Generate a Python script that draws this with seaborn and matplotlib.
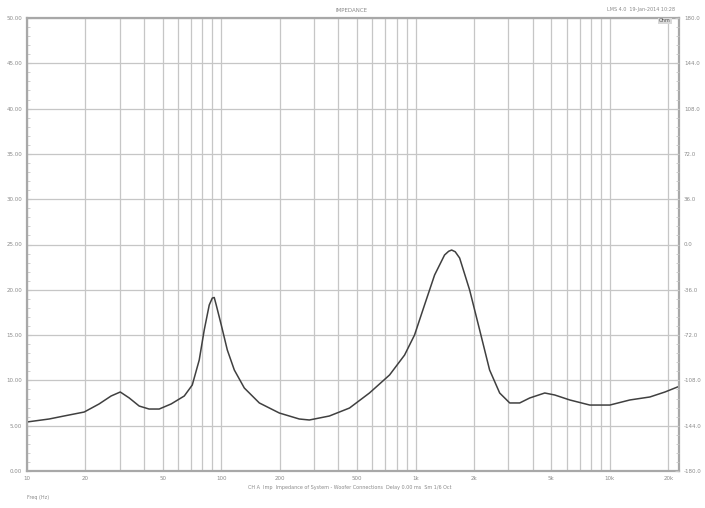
import numpy as np
import pandas as pd
import matplotlib
matplotlib.use('Agg')
import matplotlib.pyplot as plt
import seaborn as sns
from matplotlib.ticker import FixedLocator, NullFormatter

# Impedance curve (Hz, Ohm)
freq_hz = [10, 13, 15.5, 19.7, 23.5, 27.1, 30.2, 33.6, 37.8, 42.5, 47.9, 55.2, 64.5,
           70.9, 77.0, 81.7, 86.7, 89.9, 92.0, 94.2, 100, 107.4, 116.7, 131.4, 157, 199,
           252, 284, 360, 457, 579, 735, 878, 988, 1112, 1253, 1410, 1480, 1534, 1600,
           1686, 1898, 2138, 2405, 2710, 3053, 3436, 3870, 4624, 5204, 6220, 7888,
           10000, 12680, 16070, 19220, 22960]
impedance_ohm = [5.41, 5.74, 6.07, 6.51, 7.40, 8.28, 8.72, 8.06, 7.17, 6.84, 6.84, 7.40,
                 8.28, 9.49, 12.25, 15.56, 18.32, 19.09, 19.15, 18.32, 16.11, 13.36, 11.15,
                 9.16, 7.51, 6.40, 5.74, 5.63, 6.07, 6.95, 8.61, 10.60, 12.80, 15.01,
                 18.32, 21.63, 23.84, 24.25, 24.39, 24.20, 23.51, 19.98, 15.56, 11.15,
                 8.61, 7.51, 7.51, 8.06, 8.61, 8.39, 7.84, 7.28, 7.28, 7.84, 8.17, 8.72,
                 9.38]

x_ticks = [10, 20, 50, 100, 200, 500, 1000, 2000, 5000, 10000, 20000]
x_tick_labels = ['10', '20', '50', '100', '200', '500', '1k', '2k', '5k', '10k', '20k']
ohm_ticks = [0, 5, 10, 15, 20, 25, 30, 35, 40, 45, 50]
deg_ticks = [-180, -144, -108, -72, -36, 0, 36, 72, 108, 144, 180]

df = pd.DataFrame({'Frequency': freq_hz, 'Impedance': impedance_ohm})

sns.set_style('white')
grid_col = '#c6c6c6'
text_col = '#8a8a8a'

fig = plt.figure(figsize=(7.05, 5.08), dpi=100)
ax = fig.add_axes([27 / 705, 37 / 508, 652 / 705, 453 / 508])

sns.lineplot(data=df, x='Frequency', y='Impedance', ax=ax, color='#404040', linewidth=1.1)

ax.set_xscale('log')
ax.set_xlim(10, 22700)
ax.set_ylim(0, 50)

# grid: every 1-9 multiple on the log axis, every 5 Ohm on the linear one
grid_x = [m * 10 ** d for d in range(1, 5) for m in range(1, 10) if 10 <= m * 10 ** d <= 22700]
for gx in grid_x:
    ax.axvline(gx, color=grid_col, lw=0.9, zorder=0)
for gy in ohm_ticks:
    ax.axhline(gy, color=grid_col, lw=0.9, zorder=0)

ax.xaxis.set_major_locator(FixedLocator(x_ticks))
ax.set_xticklabels(x_tick_labels)
ax.xaxis.set_minor_formatter(NullFormatter())
ax.set_yticks(ohm_ticks)
ax.set_yticklabels([f'{v:.2f}' for v in ohm_ticks])
ax.yaxis.set_minor_locator(FixedLocator(np.arange(0, 50, 1)))
ax.tick_params(axis='both', which='both', direction='in', colors=grid_col,
               labelcolor=text_col, labelsize=4, length=3)
ax.tick_params(axis='y', which='minor', length=2)
ax.tick_params(axis='x', which='minor', length=0)
ax.set_xlabel('')
ax.set_ylabel('')

for s in ax.spines.values():
    s.set_color('#a8a8a8')
    s.set_linewidth(1.6)

# phase axis on the right
ax2 = ax.twinx()
ax2.set_ylim(-180, 180)
ax2.set_yticks(deg_ticks)
ax2.set_yticklabels([f'{v:.1f}' for v in deg_ticks])
ax2.yaxis.set_minor_locator(FixedLocator(np.arange(-180, 180, 7.2)))
ax2.tick_params(axis='y', which='both', direction='in', colors=grid_col,
                labelcolor=text_col, labelsize=4, length=3)
ax2.tick_params(axis='y', which='minor', length=2)
for s in ax2.spines.values():
    s.set_visible(False)

fig.text(352 / 705, 1 - 10 / 508, 'IMPEDANCE', ha='center', va='center', fontsize=4, color=text_col)
fig.text(675 / 705, 1 - 9 / 508, 'LMS 4.0  19-Jan-2014 10:28', ha='right', va='center',
         fontsize=3.5, color=text_col)
fig.text(665 / 705, 1 - 21 / 508, 'Ohm', ha='center', va='center', fontsize=3.5,
         color='#555555', bbox=dict(boxstyle='square,pad=0.2', fc='#d8d8d8', ec='none'))
fig.text(350 / 705, 1 - 487 / 508,
         'CH A  Imp  Impedance of System - Woofer Connections  Delay 0.00 ms  Sm 1/6 Oct',
         ha='center', va='center', fontsize=3.5, color=text_col)
fig.text(27 / 705, 1 - 497 / 508, 'Freq (Hz)', ha='left', va='center', fontsize=3.5, color=text_col)

fig.savefig('out.png', dpi=100, facecolor='white')
